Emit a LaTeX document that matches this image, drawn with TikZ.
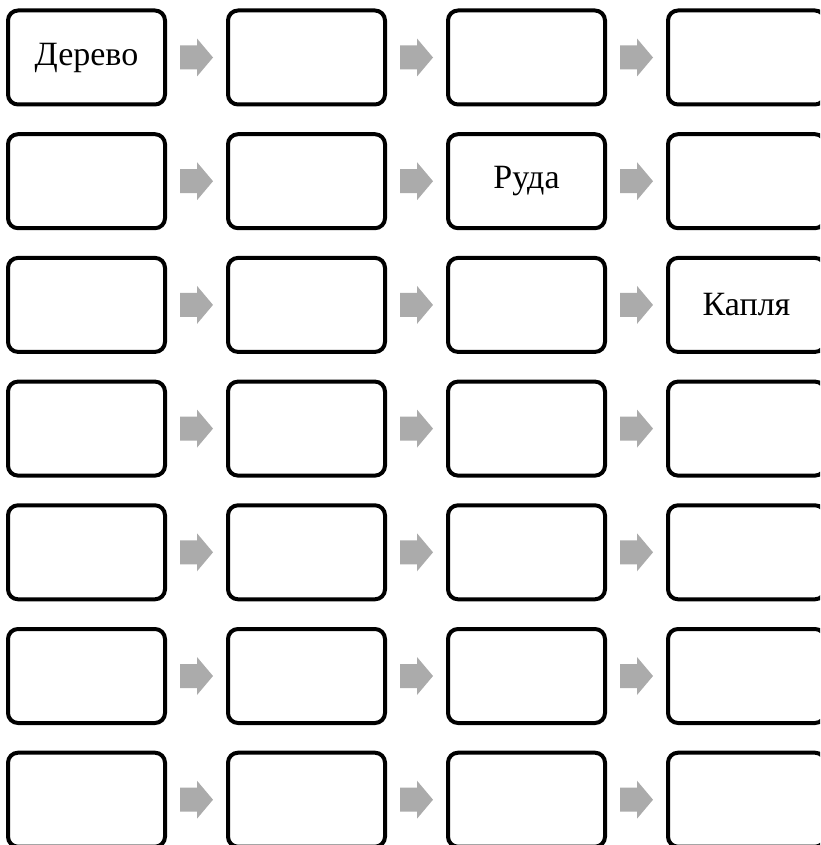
\documentclass[tikz,border=0pt]{standalone}
\usepackage{fontspec}
\setmainfont{Liberation Serif}
\usepackage{tikz}
\usetikzlibrary{calc}
\definecolor{ChainGray}{HTML}{ABABAB}
\tikzset{
  chainbox/.style={draw=black,line width=4pt,rounded corners=10pt,fill=white,
    minimum width=157pt,minimum height=94pt,inner sep=0pt},
  chainlabel/.style={font=\fontsize{34}{40}\selectfont},
  chainarrow/.style={fill=ChainGray,draw=none}
}
% gray block arrow half way between two boxes
\newcommand{\chainstep}[2]{%
  \coordinate (mid) at ($(#1.east)!0.5!(#2.west)$);
  \fill[chainarrow] ($(mid)+(-16.5,-12)$) -- ++(17,0) -- ++(0,-7) -- ++(16,19)
    -- ++(-16,19) -- ++(0,-7) -- ++(-17,0) -- cycle;}

\begin{document}
\begin{tikzpicture}[x=1pt,y=-1pt]
  \useasboundingbox (0,0) rectangle (820,845);
  \clip (0,0) rectangle (820,845);
  \foreach \r in {1,...,7}{
    \foreach \c in {1,...,4}{
      \node[chainbox] (box-\r-\c) at ({86.5+220*(\c-1)},{57.5+123.7*(\r-1)}) {};
    }
  }
  \node[chainlabel] (wood) at (box-1-1) {Дерево};
  \node[chainlabel] (ore) at (box-2-3) {Руда};
  \node[chainlabel] (drop) at (box-3-4) {Капля};
  \foreach \r in {1,...,7}{
    \chainstep{box-\r-1}{box-\r-2}
    \chainstep{box-\r-2}{box-\r-3}
    \chainstep{box-\r-3}{box-\r-4}
  }
\end{tikzpicture}
\end{document}
